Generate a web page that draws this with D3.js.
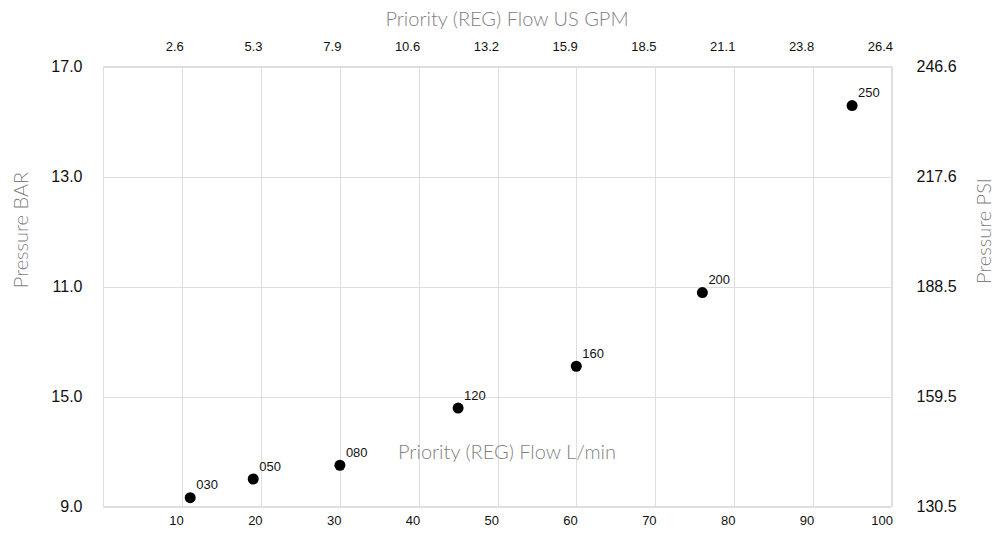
<!DOCTYPE html>
<html>
<head>
<meta charset="utf-8">
<script src="https://cdn.jsdelivr.net/npm/d3@7"></script>
<style>
  html, body { margin: 0; padding: 0; background: #fff; }
  svg { display: block; }
  .tick text { font-family: "Liberation Sans", Arial, sans-serif; fill: #111; }
  .title { font-family: Lato, Roboto, "Liberation Sans", sans-serif; font-weight: 300; fill: #7f7f7f; }
</style>
</head>
<body>
<svg id="chart" width="995" height="534"></svg>
<script>
// ---- data ----
const flowTicks = [10, 20, 30, 40, 50, 60, 70, 80, 90, 100];            // L/min
const gpmLabels = ["2.6", "5.3", "7.9", "10.6", "13.2", "15.9", "18.5", "21.1", "23.8", "26.4"];
const barTicks = [17, 15, 13, 11, 9];
const barLabels = ["17.0", "13.0", "11.0", "15.0", "9.0"];
const psiLabels = ["246.6", "217.6", "188.5", "159.5", "130.5"];
const pointNames = ["030", "050", "080", "120", "160", "200", "250"];
const pointFlow = [11, 19, 30, 45, 60, 76, 95];
const pointPressure = [9.16, 9.50, 9.75, 10.79, 11.55, 12.89, 16.29];

(function () {
// ---- layout ----
const svg = d3.select("#chart");
const L = 103.5, R = 891.5, T = 66.5, B = 506.5;
const x = d3.scaleLinear().domain([0, 100]).range([L, R]);
const y = d3.scaleLinear().domain([9, 17]).range([B, T]);
const gridColor = "#dedede";

// grid
const grid = svg.append("g");
grid.selectAll("line.v").data(flowTicks).join("line")
  .attr("x1", d => Math.round(x(d)) + 0.5).attr("x2", d => Math.round(x(d)) + 0.5)
  .attr("y1", T).attr("y2", B)
  .attr("stroke", gridColor).attr("stroke-width", 1);
grid.selectAll("line.h").data(barTicks).join("line")
  .attr("x1", L).attr("x2", R)
  .attr("y1", d => Math.round(y(d)) + 0.5).attr("y2", d => Math.round(y(d)) + 0.5)
  .attr("stroke", gridColor).attr("stroke-width", 1);
grid.append("rect").attr("x", L).attr("y", T).attr("width", R - L).attr("height", B - T)
  .attr("fill", "none").attr("stroke", gridColor).attr("stroke-width", 1);

// axes
const axB = svg.append("g").attr("transform", `translate(0,${B})`)
  .call(d3.axisBottom(x).tickValues(flowTicks).tickSize(0).tickPadding(9));
axB.selectAll("text").attr("text-anchor", "end").attr("x", 1).style("font-size", "13px");

const axT = svg.append("g").attr("transform", `translate(0,${T})`)
  .call(d3.axisTop(x).tickValues(flowTicks).tickSize(0).tickPadding(16)
    .tickFormat((d, i) => gpmLabels[i]));
axT.selectAll("text").attr("text-anchor", "end").attr("x", 1).style("font-size", "13px");

const axL = svg.append("g").attr("transform", `translate(${L},0)`)
  .call(d3.axisLeft(y).tickValues(barTicks).tickSize(0).tickPadding(21)
    .tickFormat((d, i) => barLabels[i]));
axL.selectAll("text").style("font-size", "16px");

const axR = svg.append("g").attr("transform", `translate(${R},0)`)
  .call(d3.axisRight(y).tickValues(barTicks).tickSize(0).tickPadding(25)
    .tickFormat((d, i) => psiLabels[i]));
axR.selectAll("text").style("font-size", "16px");

[axB, axT, axL, axR].forEach(g => g.select(".domain").remove());

// titles
svg.append("text").attr("class", "title").attr("x", 507).attr("y", 26)
  .attr("text-anchor", "middle").style("font-size", "20px").text("Priority (REG) Flow US GPM");
svg.append("text").attr("class", "title").attr("x", 507).attr("y", 459)
  .attr("text-anchor", "middle").style("font-size", "20px").text("Priority (REG) Flow L/min");
svg.append("text").attr("class", "title").attr("transform", "translate(28,230) rotate(-90)")
  .attr("text-anchor", "middle").style("font-size", "20px").text("Pressure BAR");
svg.append("text").attr("class", "title").attr("transform", "translate(991,231) rotate(-90)")
  .attr("text-anchor", "middle").style("font-size", "20px").text("Pressure PSI");

// points
const pts = pointNames.map((n, i) => ({ n, f: pointFlow[i], p: pointPressure[i] }));
svg.append("g").selectAll("circle").data(pts).join("circle")
  .attr("cx", d => x(d.f)).attr("cy", d => y(d.p)).attr("r", 5.5).attr("fill", "#000");
svg.append("g").selectAll("text").data(pts).join("text")
  .attr("x", d => x(d.f) + 6).attr("y", d => y(d.p) - 8.5)
  .style("font-family", "'Liberation Sans', Arial, sans-serif").style("font-size", "13px")
  .attr("fill", "#111").text(d => d.n);
})();
</script>
</body>
</html>
